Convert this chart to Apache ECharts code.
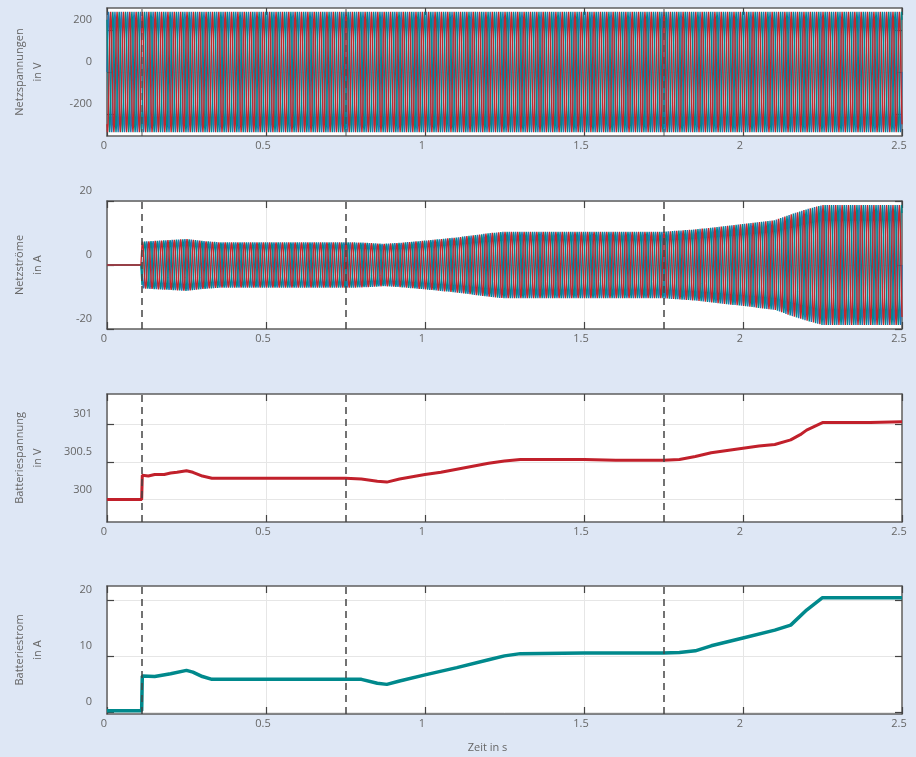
<!DOCTYPE html>
<html>
<head>
<meta charset="utf-8">
<script src="https://cdn.jsdelivr.net/npm/echarts@6/dist/echarts.min.js"></script>
<style>
  html, body { margin: 0; padding: 0; background: #dee7f5; }
  #chart { width: 916px; height: 757px; }
</style>
</head>
<body>
<div id="chart"></div>
<script>
// time axis
const xTicks = [0, 0.5, 1, 1.5, 2, 2.5]
const switchTimes = [0.11, 0.75, 1.75]

// one 50 Hz period, 12 samples, normalised (phases shifted by 4 samples = 120°)
const periodShape = [0, 0.5, 0.866, 1, 0.866, 0.5, 0, -0.5, -0.866, -1, -0.866, -0.5]
const phaseOffsets = [0, 4, 8]
const netFreq = 50
const simEnd = 2.5

// Netzspannungen: amplitude over time
const uNetTimes = [0, 2.5]
const uNetAmp = [287, 287]

// Netzströme: amplitude envelope over time
const iNetTimes = [0, 0.109, 0.11, 0.2, 0.25, 0.3, 0.35, 0.75, 0.8, 0.87, 0.92, 1.0, 1.1, 1.2, 1.25, 1.75, 1.85, 2.0, 2.1, 2.15, 2.2, 2.25, 2.5]
const iNetAmp = [0, 0, 7.3, 7.8, 8.1, 7.5, 7.1, 7.1, 7.0, 6.6, 6.9, 7.6, 8.6, 9.9, 10.4, 10.4, 11.1, 12.8, 14.0, 15.8, 17.4, 18.75, 18.75]

// Batteriespannung
const uBatTimes = [0, 0.109, 0.111, 0.13, 0.15, 0.18, 0.2, 0.22, 0.25, 0.27, 0.3, 0.33, 0.4, 0.5, 0.6, 0.7, 0.75, 0.8, 0.85, 0.88, 0.92, 1.0, 1.05, 1.1, 1.15, 1.2, 1.25, 1.3, 1.4, 1.5, 1.6, 1.7, 1.75, 1.8, 1.85, 1.9, 1.95, 2.0, 2.05, 2.1, 2.15, 2.18, 2.2, 2.23, 2.25, 2.3, 2.4, 2.5]
const uBatValues = [300.0, 300.0, 300.32, 300.31, 300.33, 300.33, 300.35, 300.36, 300.38, 300.36, 300.31, 300.28, 300.28, 300.28, 300.28, 300.28, 300.28, 300.27, 300.24, 300.23, 300.27, 300.33, 300.36, 300.4, 300.44, 300.48, 300.51, 300.53, 300.53, 300.53, 300.52, 300.52, 300.52, 300.53, 300.57, 300.62, 300.65, 300.68, 300.71, 300.73, 300.79, 300.86, 300.92, 300.98, 301.02, 301.02, 301.02, 301.03]

// Batteriestrom
const iBatTimes = [0, 0.109, 0.111, 0.15, 0.2, 0.25, 0.27, 0.3, 0.33, 0.4, 0.5, 0.6, 0.7, 0.8, 0.85, 0.88, 0.92, 1.0, 1.1, 1.2, 1.25, 1.3, 1.5, 1.75, 1.8, 1.85, 1.9, 2.0, 2.1, 2.15, 2.2, 2.25, 2.35, 2.5]
const iBatValues = [0.2, 0.2, 6.4, 6.3, 6.8, 7.4, 7.1, 6.3, 5.8, 5.8, 5.8, 5.8, 5.8, 5.8, 5.1, 4.9, 5.5, 6.6, 7.9, 9.3, 10.0, 10.4, 10.5, 10.5, 10.6, 10.9, 11.8, 13.2, 14.6, 15.5, 18.2, 20.4, 20.4, 20.4]

// y axes
const yNames = ['Netzspannungen\nin V', 'Netzströme\nin A', 'Batteriespannung\nin V', 'Batteriestrom\nin A']
const yRanges = [[-305, 305], [-20, 20], [299.7, 301.4], [-0.4, 22.5]]
const yTicks = [[-200, 0, 200], [-20, 0, 20], [300, 300.5, 301], [0, 10, 20]]

const phaseColors = ['#2676b3', '#00898c', '#c1272d']
const batColors = ['#c1202b', '#00898c']

function envAt(times, vals, t) {
  if (t <= times[0]) return vals[0]
  for (let i = 1; i < times.length; i++) {
    if (t <= times[i]) {
      const f = (t - times[i - 1]) / (times[i] - times[i - 1])
      return vals[i - 1] + f * (vals[i] - vals[i - 1])
    }
  }
  return vals[vals.length - 1]
}

function phaseData(times, amps, off) {
  const dt = 1 / netFreq / periodShape.length
  const n = Math.round(simEnd / dt)
  const out = []
  for (let k = 0; k <= n; k++) {
    const t = k * dt
    out.push([t, envAt(times, amps, t) * periodShape[(k + off) % periodShape.length]])
  }
  return out
}

const zip = (a, b) => a.map((t, i) => [t, b[i]])

const gridTops = [8, 201, 394, 586]
const gridH = 128
const txt = { color: '#666', fontSize: 11, fontFamily: 'Open Sans' }
const axisLine = { show: true, onZero: false, lineStyle: { color: '#5f5f5f', width: 1.5 } }
const tick = { show: true, inside: true, length: 7, lineStyle: { color: '#444', width: 1.2 } }
const grid = { color: '#e6e6e6', width: 1 }

const option = {
  animation: false,
  backgroundColor: '#dee7f5',
  grid: gridTops.map(top => ({
    left: 107, right: 14, top: top, height: gridH,
    show: true, backgroundColor: '#fff', borderWidth: 0
  })),
  xAxis: [],
  yAxis: [],
  series: []
}

for (let g = 0; g < 4; g++) {
  option.xAxis.push({
    type: 'value', gridIndex: g, min: 0, max: 2.5, interval: 0.5, position: 'bottom',
    axisLine: axisLine, axisTick: tick,
    axisLabel: Object.assign({ margin: 4, padding: [0, 6, 0, 0] }, txt),
    splitLine: { show: true, lineStyle: grid },
    name: g === 3 ? 'Zeit in s' : '',
    nameLocation: 'middle', nameGap: 28,
    nameTextStyle: Object.assign({ padding: [0, 34, 0, 0] }, txt)
  })
  option.xAxis.push({
    type: 'value', gridIndex: g, min: 0, max: 2.5, interval: 0.5, position: 'top',
    axisLine: axisLine, axisTick: tick, axisLabel: { show: false }, splitLine: { show: false }
  })
  option.yAxis.push({
    type: 'value', gridIndex: g, min: yRanges[g][0], max: yRanges[g][1], position: 'left',
    axisLine: axisLine,
    axisTick: Object.assign({ customValues: yTicks[g] }, tick),
    // labels sit about 10px above their tick, as in the original
    axisLabel: Object.assign({
      customValues: yTicks[g], margin: 15, hideOverlap: false,
      formatter: v => '{a|' + v + '}\n{b|}',
      rich: { a: { lineHeight: 14, color: '#666', fontSize: 11, fontFamily: 'Open Sans' }, b: { height: 20, lineHeight: 20 } }
    }, txt),
    splitLine: { show: true, customValues: yTicks[g], lineStyle: grid },
    name: yNames[g], nameLocation: 'middle', nameGap: 60,
    nameTextStyle: Object.assign({ lineHeight: 18 }, txt)
  })
  option.yAxis.push({
    type: 'value', gridIndex: g, min: yRanges[g][0], max: yRanges[g][1], position: 'right',
    axisLine: axisLine,
    axisTick: Object.assign({ customValues: yTicks[g] }, tick),
    axisLabel: { show: false, customValues: yTicks[g] },
    splitLine: { show: false }
  })
}

function dashed(opacity) {
  return {
    silent: true, symbol: 'none', label: { show: false },
    lineStyle: { type: [7, 5], color: '#444', width: 1.5, opacity: opacity },
    data: switchTimes.map(t => ({ xAxis: t }))
  }
}

const lineBase = { type: 'line', symbol: 'none', showSymbol: false, silent: true }

// panels 1 & 2: three phases
const netSets = [[uNetTimes, uNetAmp], [iNetTimes, iNetAmp]]
netSets.forEach((set, g) => {
  phaseOffsets.forEach((off, p) => {
    option.series.push(Object.assign({}, lineBase, {
      xAxisIndex: 2 * g, yAxisIndex: 2 * g,
      data: phaseData(set[0], set[1], off),
      lineStyle: { color: phaseColors[p], width: 1.4 },
      markLine: p === 2 ? dashed(g === 0 ? 0.6 : 1) : undefined
    }))
  })
})

// panels 3 & 4: battery
option.series.push(Object.assign({}, lineBase, {
  xAxisIndex: 4, yAxisIndex: 4,
  data: zip(uBatTimes, uBatValues),
  lineStyle: { color: batColors[0], width: 3 },
  markLine: dashed(1)
}))
option.series.push(Object.assign({}, lineBase, {
  xAxisIndex: 6, yAxisIndex: 6,
  data: zip(iBatTimes, iBatValues),
  lineStyle: { color: batColors[1], width: 3.5 },
  markLine: dashed(1)
}))

const chart = echarts.init(document.getElementById('chart'))
chart.setOption(option)
</script>
</body>
</html>
